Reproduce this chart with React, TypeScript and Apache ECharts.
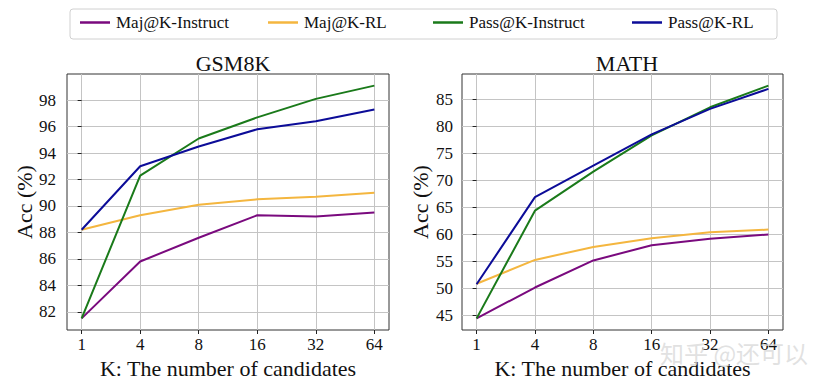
import React, { useEffect, useRef } from "react";
import * as echarts from "echarts";

const kLabels = ["1", "4", "8", "16", "32", "64"];
const seriesNames = ["Maj@K-Instruct", "Maj@K-RL", "Pass@K-Instruct", "Pass@K-RL"];
const seriesColors = ["#7a0a7e", "#f4b63f", "#1a7a1a", "#0c0c98"];

const gsmMajInstruct = [81.5, 85.8, 87.6, 89.3, 89.2, 89.5];
const gsmMajRL = [88.2, 89.3, 90.1, 90.5, 90.7, 91.0];
const gsmPassInstruct = [81.5, 92.3, 95.1, 96.7, 98.1, 99.1];
const gsmPassRL = [88.2, 93.0, 94.5, 95.8, 96.4, 97.3];

const mathMajInstruct = [44.5, 50.2, 55.2, 58.0, 59.2, 60.0];
const mathMajRL = [50.9, 55.3, 57.7, 59.3, 60.4, 60.9];
const mathPassInstruct = [44.5, 64.4, 71.6, 78.3, 83.5, 87.5];
const mathPassRL = [50.8, 66.9, 72.7, 78.5, 83.2, 86.9];

const gsmTicks = [82, 84, 86, 88, 90, 92, 94, 96, 98];
const mathTicks = [45, 50, 55, 60, 65, 70, 75, 80, 85];

const FONT = "'Liberation Serif', 'Times New Roman', serif";

export default function App() {
  const ref = useRef<HTMLDivElement>(null);
  useEffect(() => {
    if (!ref.current) return;
    const chart = echarts.init(ref.current, null, { renderer: "svg" });
    const gsm = [gsmMajInstruct, gsmMajRL, gsmPassInstruct, gsmPassRL];
    const math = [mathMajInstruct, mathMajRL, mathPassInstruct, mathPassRL];
    const xIdx = kLabels.map((_, i) => i);

    const pad = (arr: number[][]) => {
      const all = arr.flat();
      const mn = Math.min(...all);
      const mx = Math.max(...all);
      const m = (mx - mn) * 0.05;
      return [mn - m, mx + m];
    };
    const gRange = pad(gsm);
    const mRange = pad(math);

    const xAxisBase = (gridIndex: number) => ({
      type: "value" as const,
      gridIndex,
      min: -0.25,
      max: 5.25,
      axisLine: { show: false },
      axisTick: { show: true, customValues: xIdx, length: 4, lineStyle: { color: "#222" }, inside: false },
      axisLabel: {
        customValues: xIdx,
        formatter: (v: number) => kLabels[Math.round(v)] ?? "",
        fontFamily: FONT,
        fontSize: 17,
        color: "#111",
        margin: 6,
      },
      splitLine: { show: true, lineStyle: { color: "#c4c4c4", width: 1 } },
      name: "K: The number of candidates",
      nameLocation: "middle" as const,
      nameGap: 27,
      nameTextStyle: { fontFamily: FONT, fontSize: 22, color: "#111" },
    });
    const yAxisBase = (gridIndex: number, range: number[], ticks: number[], margin: number) => ({
      type: "value" as const,
      gridIndex,
      min: range[0],
      max: range[1],
      axisLine: { show: false },
      axisTick: { show: true, customValues: ticks, length: 4, lineStyle: { color: "#222" } },
      axisLabel: {
        customValues: ticks,
        fontFamily: FONT,
        fontSize: 17,
        color: "#111",
        margin,
      },
      splitLine: { show: true, lineStyle: { color: "#c4c4c4", width: 1 } },
      name: "Acc (%)",
      nameLocation: "middle" as const,
      nameGap: 31,
      nameTextStyle: { fontFamily: FONT, fontSize: 22, color: "#111" },
    });

    const series: any[] = [];
    [gsm, math].forEach((group, gi) => {
      group.forEach((vals, si) => {
        series.push({
          type: "line",
          name: seriesNames[si],
          xAxisIndex: gi,
          yAxisIndex: gi,
          data: vals.map((v, i) => [xIdx[i], v]),
          symbol: "none",
          lineStyle: { color: seriesColors[si], width: 2 },
          itemStyle: { color: seriesColors[si] },
          z: 3,
        });
      });
    });

    const legendLefts = [80, 268, 433, 632];
    const legends = seriesNames.map((n, i) => ({
      data: [n],
      left: legendLefts[i],
      top: 14,
      icon: "rect",
      itemWidth: 30,
      itemHeight: 2.5,
      itemGap: 8,
      padding: 0,
      selectedMode: false,
      textStyle: { fontFamily: FONT, fontSize: 17, color: "#111", padding: [0, 0, 0, 1] },
    }));

    chart.setOption({
      animation: false,
      backgroundColor: "#ffffff",
      title: [
        { text: "GSM8K", left: 228, top: 47, textAlign: "center", textStyle: { fontFamily: FONT, fontSize: 22, fontWeight: "normal", color: "#111" } },
        { text: "MATH", left: 622, top: 47, textAlign: "center", textStyle: { fontFamily: FONT, fontSize: 22, fontWeight: "normal", color: "#111" } },
      ],
      legend: legends,
      grid: [
        { left: 67, top: 74, width: 322, height: 256, show: true, borderColor: "#333", borderWidth: 1, backgroundColor: "transparent", containLabel: false },
        { left: 462, top: 74, width: 321, height: 256, show: true, borderColor: "#333", borderWidth: 1, backgroundColor: "transparent", containLabel: false },
      ],
      xAxis: [xAxisBase(0), xAxisBase(1)],
      yAxis: [yAxisBase(0, gRange, gsmTicks, 11), yAxisBase(1, mRange, mathTicks, 9)],
      series,
      graphic: [
        {
          type: "rect",
          shape: { x: 70, y: 9, width: 707, height: 30, r: 3 },
          style: { fill: "#ffffff", stroke: "#d0d0d0", lineWidth: 1 },
          z: -1,
        },
        {
          type: "text",
          x: 660,
          y: 340,
          z: 100,
          style: {
            text: "知乎 @还可以",
            fontFamily: "'Noto Sans CJK SC', sans-serif",
            fontSize: 24,
            fill: "rgba(215,215,215,0.75)",
          },
        },
      ],
    });
    return () => chart.dispose();
  }, []);
  return <div ref={ref} style={{ width: 833, height: 390, margin: -8 }} />;
}
